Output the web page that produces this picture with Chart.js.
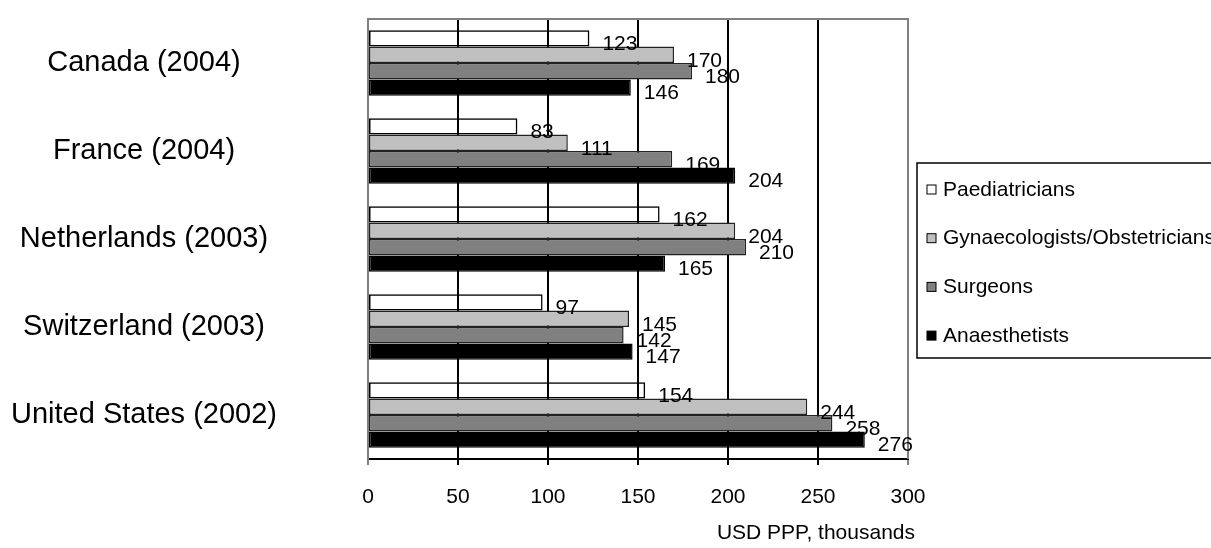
<!DOCTYPE html>
<html>
<head>
<meta charset="utf-8">
<script src="https://cdn.jsdelivr.net/npm/chart.js@4"></script>
<style>
  html, body { margin: 0; padding: 0; background: #fff; }
  #wrap { width: 1211px; height: 548px; }
</style>
</head>
<body>
<div id="wrap"><canvas id="myChart" width="1211" height="548"></canvas></div>
<script>
const countries = ["Canada (2004)", "France (2004)", "Netherlands (2003)", "Switzerland (2003)", "United States (2002)"];
const paediatricians = [123, 83, 162, 97, 154];
const gynaecologists = [170, 111, 204, 145, 244];
const surgeons = [180, 169, 210, 142, 258];
const anaesthetists = [146, 204, 165, 147, 276];
const xTicks = [0, 50, 100, 150, 200, 250, 300];
const xTitle = "USD PPP, thousands";

const FONT = "'Liberation Sans', Arial, sans-serif";
const ctx = document.getElementById("myChart");

// measure widest category label so the labels can be centred at x=144
const mctx = document.createElement("canvas").getContext("2d");
mctx.font = "29px " + FONT;
let widest = 0;
countries.forEach((c) => { widest = Math.max(widest, mctx.measureText(c).width); });
const yPad = 368 - 144 - widest / 2;

// grey top/right border of the plot area + axis title
const frame = {
  id: "frame",
  beforeDatasetsDraw: (chart) => {
    const { ctx, chartArea: a } = chart;
    ctx.save();
    ctx.strokeStyle = "#808080";
    ctx.lineWidth = 2;
    ctx.beginPath();
    ctx.moveTo(a.left, a.top);
    ctx.lineTo(a.right, a.top);
    ctx.lineTo(a.right, a.bottom);
    ctx.stroke();
    ctx.restore();
  },
  afterDraw: (chart) => {
    const { ctx, chartArea: a } = chart;
    ctx.save();
    ctx.font = "21px " + FONT;
    ctx.fillStyle = "#000";
    ctx.textAlign = "right";
    ctx.textBaseline = "middle";
    ctx.fillText(xTitle, a.right + 7, 533);
    ctx.restore();
  },
};

const valueLabels = {
  id: "valueLabels",
  afterDatasetsDraw: (chart) => {
    const { ctx } = chart;
    ctx.save();
    ctx.font = "21px " + FONT;
    ctx.fillStyle = "#000";
    ctx.textAlign = "left";
    ctx.textBaseline = "middle";
    chart.data.datasets.forEach((ds, i) => {
      chart.getDatasetMeta(i).data.forEach((bar, j) => {
        ctx.fillText(ds.data[j], bar.x + 13, bar.y + 6);
      });
    });
    ctx.restore();
  },
};

const boxLegend = {
  id: "boxLegend",
  afterDraw: (chart) => {
    const { ctx } = chart;
    ctx.save();
    ctx.strokeStyle = "#000";
    ctx.lineWidth = 1.5;
    ctx.strokeRect(917, 163, 310, 195);
    ctx.font = "21px " + FONT;
    ctx.textBaseline = "middle";
    chart.data.datasets.forEach((ds, i) => {
      const y = 190 + i * 48.7;
      ctx.fillStyle = ds.legendColor;
      ctx.fillRect(927, y - 5, 9, 9);
      ctx.lineWidth = 1;
      ctx.strokeRect(927, y - 5, 9, 9);
      ctx.fillStyle = "#000";
      ctx.fillText(ds.label, 943, y);
    });
    ctx.restore();
  },
};

const mkSet = (label, data, fill, legendColor, border) => ({
  label: label,
  data: data,
  backgroundColor: fill,
  legendColor: legendColor,
  borderColor: border,
  borderWidth: 1.5,
  borderSkipped: false,
  barPercentage: 1,
  categoryPercentage: 0.745,
});

new Chart(ctx, {
  type: "bar",
  data: {
    labels: countries,
    datasets: [
      mkSet("Paediatricians", paediatricians, "rgba(255,255,255,0)", "#fff", "#000"),
      mkSet("Gynaecologists/Obstetricians", gynaecologists, "#c0c0c0", "#c0c0c0", "#222"),
      mkSet("Surgeons", surgeons, "#808080", "#808080", "#222"),
      mkSet("Anaesthetists", anaesthetists, "#000", "#000", "#000"),
    ],
  },
  options: {
    indexAxis: "y",
    responsive: false,
    animation: false,
    layout: { padding: { top: 19, right: 303, bottom: 0, left: 0 } },
    plugins: {
      legend: { display: false },
      tooltip: { enabled: false },
    },
    scales: {
      x: {
        min: 0,
        max: 300,
        afterBuildTicks: (scale) => { scale.ticks = xTicks.map((v) => ({ value: v })); },
        afterFit: (scale) => { scale.height = 89; },
        grid: {
          color: (c) => (c.tick && (c.tick.value === 0 || c.tick.value === 300) ? "#808080" : "#000"),
          lineWidth: 2,
          tickLength: 6,
        },
        border: { color: "#000", width: 2 },
        ticks: { color: "#000", padding: 20, font: { family: FONT, size: 21 }, maxRotation: 0 },
      },
      y: {
        afterFit: (scale) => {
          scale.width = 368;
          scale.paddingTop = 0;
          scale.paddingBottom = 0;
        },
        grid: { display: false, drawTicks: false },
        border: { color: "#808080", width: 2 },
        ticks: { color: "#000", crossAlign: "center", padding: yPad, font: { family: FONT, size: 29 } },
      },
    },
  },
  plugins: [frame, valueLabels, boxLegend],
});
</script>
</body>
</html>
